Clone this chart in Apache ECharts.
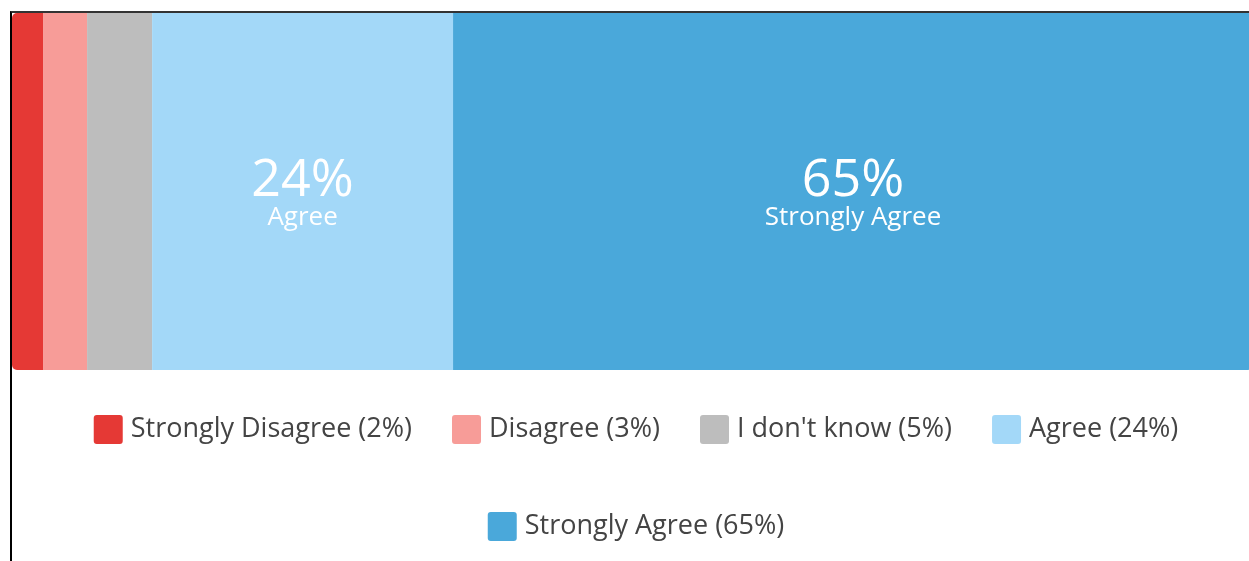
<!DOCTYPE html>
<html><head><meta charset="utf-8">
<script src="https://cdn.jsdelivr.net/npm/echarts@6/dist/echarts.min.js"></script>
<style>
html,body{margin:0;padding:0;width:1249px;height:561px;overflow:hidden;background:#fff;}
#frame{position:absolute;left:10px;top:11px;width:1300px;height:600px;border-left:2px solid #000;border-top:2px solid #333;box-sizing:border-box;}
#chart{position:absolute;left:12px;top:13px;width:1248px;height:548px;}
</style></head>
<body>
<div id="frame"></div>
<div id="chart"></div>
<script>
const categories = ['Strongly Disagree', 'Disagree', "I don't know", 'Agree', 'Strongly Agree'];
const values = [2.5, 3.55, 5.24, 24.25, 64.46];
const percentLabels = ['2%', '3%', '5%', '24%', '65%'];
const colors = ['#E53935', '#F79C98', '#BDBDBD', '#A3D8F8', '#4AA8DA'];
const showLabel = [false, false, false, true, true];

const FONT = '"Open Sans", "Noto Sans", sans-serif';
const series = categories.map((name, i) => ({
  name: name,
  type: 'bar',
  stack: 'total',
  barWidth: '100%',
  data: [values[i]],
  itemStyle: {
    color: colors[i],
    borderRadius: i === 0 ? [5, 0, 0, 5] : (i === categories.length - 1 ? [0, 5, 5, 0] : 0)
  },
  label: {
    show: showLabel[i],
    position: 'inside',
    offset: [0, 6],
    color: '#fff',
    fontFamily: FONT,
    formatter: () => '{a|' + percentLabels[i] + '}\n{b|' + name + '}',
    rich: {
      a: { fontSize: 52, lineHeight: 41, color: '#fff', fontFamily: FONT },
      b: { fontSize: 26, lineHeight: 32, color: '#fff', fontFamily: FONT }
    }
  },
  emphasis: { disabled: true }
}));

const legendBase = {
  orient: 'horizontal',
  left: 'center',
  padding: 0,
  itemWidth: 29,
  itemHeight: 29,
  itemGap: 40,
  icon: 'path://M3,0 L26,0 Q29,0 29,3 L29,26 Q29,29 26,29 L3,29 Q0,29 0,26 L0,3 Q0,0 3,0 Z',
  textStyle: { fontSize: 27, color: '#444', fontFamily: FONT, padding: [0, 0, 0, 3] },
  formatter: (n) => n + ' (' + percentLabels[categories.indexOf(n)] + ')',
  selectedMode: false
};

const chart = echarts.init(document.getElementById('chart'), null, { renderer: 'canvas' });
chart.setOption({
  animation: false,
  color: colors,
  grid: { left: 0, right: 7, top: 0, height: 357, containLabel: false },
  xAxis: { type: 'value', min: 0, max: 100, show: false },
  yAxis: { type: 'category', data: ['Response'], show: false },
  legend: [
    Object.assign({}, legendBase, { top: 402, data: categories.slice(0, 4) }),
    Object.assign({}, legendBase, { top: 499, data: categories.slice(4) })
  ],
  series: series
});
</script>
</body></html>
